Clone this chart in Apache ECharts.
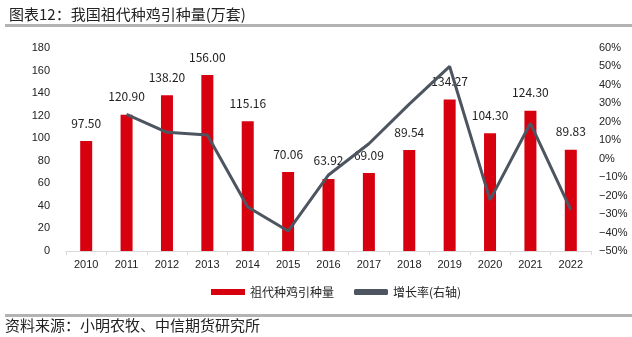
<!DOCTYPE html>
<html>
<head>
<meta charset="utf-8">
<script src="https://cdn.jsdelivr.net/npm/echarts@6/dist/echarts.min.js"></script>
<style>
html,body{margin:0;padding:0;background:#fff;}
#chart{width:632px;height:337px;}
</style>
</head>
<body>
<div id="chart"></div>
<script>
// 年份
const years = ['2010','2011','2012','2013','2014','2015','2016','2017','2018','2019','2020','2021','2022'];
// 祖代种鸡引种量（万套）
const introVolume = [97.50, 120.90, 138.20, 156.00, 115.16, 70.06, 63.92, 69.09, 89.54, 134.27, 104.30, 124.30, 89.83];
// 增长率（%）
const growthRate = [null, 24.0, 14.3, 12.9, -26.2, -39.2, -8.8, 8.1, 29.6, 50.0, -22.3, 19.2, -27.7];

const chart = echarts.init(document.getElementById('chart'), null, {renderer: 'canvas'});
const cjk = '"Noto Sans CJK SC", sans-serif';
const num = '"Liberation Sans", Arial, sans-serif';

chart.setOption({
  animation: false,
  backgroundColor: '#fff',
  textStyle: {fontFamily: cjk},
  title: {
    text: '图表12：我国祖代种鸡引种量(万套)',
    left: 4, top: 2,
    textStyle: {fontSize: 15, fontWeight: 'normal', color: '#222', fontFamily: cjk}
  },
  graphic: [
    {type: 'rect', shape: {x: 5, y: 24, width: 627, height: 3}, style: {fill: '#b3b3b3'}},
    {type: 'rect', shape: {x: 5, y: 314, width: 627, height: 3}, style: {fill: '#b3b3b3'}},
    {type: 'text', left: 5, top: 318, style: {text: '资料来源：小明农牧、中信期货研究所', fill: '#222', font: '15px "Noto Sans CJK SC"'}}
  ],
  legend: {
    bottom: 34, left: 206,
    itemGap: 20, itemWidth: 34, itemHeight: 6,
    textStyle: {fontSize: 12, color: '#222', fontFamily: cjk},
    data: [
      {name: '祖代种鸡引种量', icon: 'rect'},
      {name: '增长率(右轴)', icon: 'roundRect'}
    ]
  },
  grid: {left: 66, right: 41, top: 48, bottom: 86, outerBoundsMode: 'none', containLabel: false},
  xAxis: {
    type: 'category',
    data: years,
    axisLine: {lineStyle: {color: '#d9d9d9'}},
    axisTick: {show: true, length: 4, lineStyle: {color: '#d9d9d9'}},
    axisLabel: {color: '#222', fontSize: 11, fontFamily: num, margin: 8}
  },
  yAxis: [
    {
      type: 'value', min: 0, max: 180, interval: 20,
      axisLine: {show: false}, axisTick: {show: false}, splitLine: {show: false},
      axisLabel: {color: '#222', fontSize: 11, fontFamily: num, margin: 16}
    },
    {
      type: 'value', min: -50, max: 60, interval: 10,
      axisLine: {show: false}, axisTick: {show: false}, splitLine: {show: false},
      axisLabel: {color: '#222', fontSize: 11, fontFamily: num, margin: 8, formatter: v => (v < 0 ? '\u2212' + (-v) : v) + '%'}
    }
  ],
  series: [
    {
      name: '祖代种鸡引种量', type: 'bar', yAxisIndex: 0,
      data: introVolume, barWidth: 12,
      itemStyle: {color: '#d7000f'},
      label: {
        show: true, position: 'top', distance: 12,
        color: '#222', fontSize: 12, fontFamily: cjk,
        formatter: p => p.value.toFixed(2)
      }
    },
    {
      name: '增长率(右轴)', type: 'line', yAxisIndex: 1,
      data: growthRate, symbol: 'none',
      lineStyle: {color: '#4d5560', width: 3},
      itemStyle: {color: '#4d5560'}
    }
  ]
});
</script>
</body>
</html>
